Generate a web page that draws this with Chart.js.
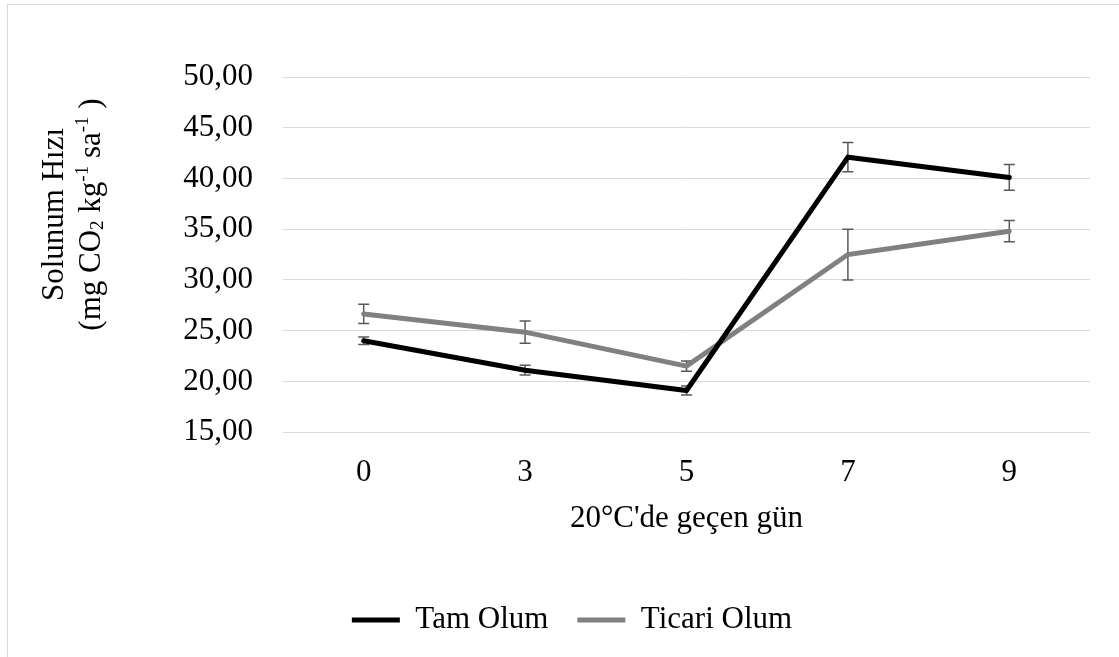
<!DOCTYPE html>
<html lang="tr">
<head>
<meta charset="utf-8">
<title>Solunum Hızı</title>
<script src="https://cdn.jsdelivr.net/npm/chart.js@4.4.1/dist/chart.umd.min.js"></script>
<style>
  html, body { margin: 0; padding: 0; background: #fff; }
  body { width: 1119px; height: 657px; overflow: hidden; position: relative; }
  .frame { position: absolute; left: 7px; top: 4px; width: 1130px; height: 670px; border: 1px solid #d9d9d9; }
  #chart { position: absolute; left: 0; top: 0; }
</style>
</head>
<body>
<div class="frame"></div>
<canvas id="chart" width="1119" height="657"></canvas>
<script>
// days at 20 °C
const days = ['0', '3', '5', '7', '9'];

// respiration rate, mg CO2 kg-1 h-1
const tamOlum = [24.0, 21.1, 19.1, 42.1, 40.1];
const tamOlumErr = [0.37, 0.48, 0.45, 1.45, 1.27];

const ticariOlum = [26.65, 24.85, 21.5, 32.5, 34.8];
const ticariOlumErr = [0.95, 1.1, 0.5, 2.5, 1.05];

const yMin = 15;
const yMax = 50;
const yStep = 5;

const errors = [tamOlumErr, ticariOlumErr];

const serif = "'Liberation Serif', 'Times New Roman', serif";
const font = { family: serif, size: 31 };

// vertical error bars, drawn under the lines
const errorBars = {
  id: 'errorBars',
  beforeDatasetsDraw(chart) {
    const { ctx, scales: { x, y } } = chart;
    ctx.save();
    ctx.strokeStyle = '#595959';
    ctx.lineWidth = 1.5;
    chart.data.datasets.forEach((ds, i) => {
      ds.data.forEach((v, j) => {
        const err = errors[i][j];
        const px = x.getPixelForValue(j);
        const top = y.getPixelForValue(v + err);
        const bottom = y.getPixelForValue(v - err);
        ctx.beginPath();
        ctx.moveTo(px, top);
        ctx.lineTo(px, bottom);
        ctx.moveTo(px - 5.5, top);
        ctx.lineTo(px + 5.5, top);
        ctx.moveTo(px - 5.5, bottom);
        ctx.lineTo(px + 5.5, bottom);
        ctx.stroke();
      });
    });
    ctx.restore();
  }
};

// rotated two-line y title with sub/superscripts
const yTitleLines = [
  { baseline: 63, runs: [{ text: 'Solunum Hızı' }] },
  { baseline: 100, runs: [
    { text: '(mg CO' },
    { text: '2', small: true, shift: 3 },
    { text: ' kg' },
    { text: '-1', small: true, shift: -12 },
    { text: ' sa' },
    { text: '-1', small: true, shift: -12 },
    { text: ' )' }
  ] }
];

const yTitle = {
  id: 'yTitle',
  afterDraw(chart) {
    const { ctx } = chart;
    const cy = 214.5;
    const big = '31px ' + serif;
    const small = '19px ' + serif;
    ctx.save();
    ctx.translate(0, cy);
    ctx.rotate(-Math.PI / 2);
    ctx.fillStyle = '#000';
    ctx.textBaseline = 'alphabetic';
    ctx.textAlign = 'left';
    yTitleLines.forEach(line => {
      let total = 0;
      line.runs.forEach(r => {
        ctx.font = r.small ? small : big;
        r.w = ctx.measureText(r.text).width;
        total += r.w;
      });
      let x = -total / 2;
      line.runs.forEach(r => {
        ctx.font = r.small ? small : big;
        ctx.fillText(r.text, x, line.baseline + (r.shift || 0));
        x += r.w;
      });
    });
    ctx.restore();
  }
};

new Chart(document.getElementById('chart'), {
  type: 'line',
  data: {
    labels: days,
    datasets: [
      {
        label: 'Tam Olum',
        data: tamOlum,
        borderColor: '#000000',
        backgroundColor: '#000000',
        borderWidth: 5,
        borderCapStyle: 'round',
        pointRadius: 0,
        tension: 0
      },
      {
        label: 'Ticari Olum',
        data: ticariOlum,
        borderColor: '#808080',
        backgroundColor: '#808080',
        borderWidth: 5,
        borderCapStyle: 'round',
        pointRadius: 0,
        tension: 0
      }
    ]
  },
  options: {
    responsive: false,
    animation: false,
    devicePixelRatio: 1,
    layout: { padding: { left: 54, right: 29, top: 77, bottom: 11.5 } },
    plugins: {
      legend: {
        position: 'bottom',
        labels: {
          usePointStyle: true,
          pointStyle: 'line',
          pointStyleWidth: 48,
          padding: 29,
          color: '#000',
          font
        }
      },
      tooltip: { enabled: false }
    },
    scales: {
      x: {
        offset: true,
        grid: { display: false },
        border: { display: false },
        ticks: { padding: 14, color: '#000', font },
        title: {
          display: true,
          text: "20°C'de geçen gün",
          color: '#000',
          font,
          padding: { top: -5, bottom: 38 }
        }
      },
      y: {
        min: yMin,
        max: yMax,
        grid: { color: '#d9d9d9', lineWidth: 1, drawTicks: false },
        border: { display: false },
        ticks: {
          stepSize: yStep,
          padding: 30,
          color: '#000',
          font,
          callback: v => v.toFixed(2).replace('.', ',')
        },
        afterFit(scale) { scale.width = 229; }
      }
    }
  },
  plugins: [errorBars, yTitle]
});
</script>
</body>
</html>
